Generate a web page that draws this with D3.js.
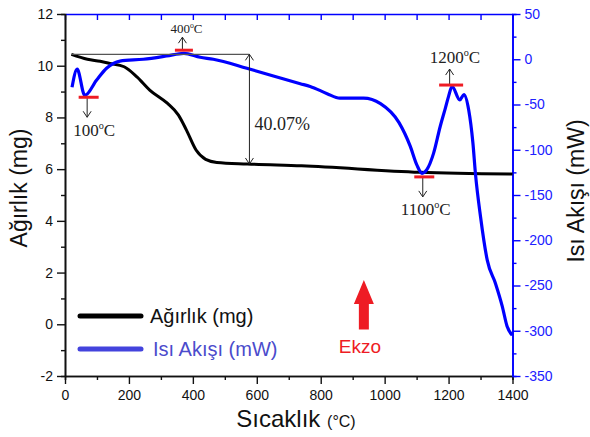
<!DOCTYPE html>
<html>
<head>
<meta charset="utf-8">
<script src="https://cdn.jsdelivr.net/npm/d3@7"></script>
<style>
  body { margin: 0; background: #fff; }
  text { font-family: Arial, 'Liberation Sans', sans-serif; }
  .serif { font-family: 'Times New Roman', 'Liberation Serif', serif; }
</style>
</head>
<body>
<svg id="chart"></svg>
<script>
// ---- data ----
const weightTemp = [20, 70, 110, 140, 185, 225, 265, 320, 355, 380, 410, 440, 475, 570, 740, 1110, 1400]
const weightMg = [10.44, 10.25, 10.17, 10.09, 9.96, 9.57, 9.06, 8.55, 8.09, 7.51, 6.74, 6.38, 6.26, 6.2, 6.13, 5.88, 5.81]

const heatTemp = [22, 38, 62, 99, 130, 172, 245, 318, 372, 423, 464, 569, 652, 736, 767, 820, 860, 934, 987,
  1045, 1080, 1101, 1117, 1132, 1153, 1174, 1190, 1200, 1211, 1235, 1248, 1263, 1276, 1284, 1300, 1321,
  1347, 1368, 1383, 1399]
const heatMw = [-31, -11, -40, -23, -10, -2, 0, 3.6, 6.6, 2.2, 0, -10, -18.5, -27, -30, -38, -43, -43, -49,
  -70, -96, -117, -126, -122, -104, -74, -54, -41, -30, -45, -39, -56, -92, -126, -174, -222,
  -248, -273, -295, -305]

// peak markers (temperature, heat flow, label)
const peakTemps = [74, 372, 1124, 1208]
const peakFlows = [-42, 10, -130, -28.5]
const peakLabels = ['100', '400', '1100', '1200']

// mass loss annotation
const lossFrom = 20
const lossAt = 577
const lossTop = 10.44
const lossBottom = 6.2
const lossText = '40.07%'

const xTicks = [0, 200, 400, 600, 800, 1000, 1200, 1400]
const leftTicks = [-2, 0, 2, 4, 6, 8, 10, 12]
const rightTicks = [-350, -300, -250, -200, -150, -100, -50, 0, 50]

// ---- layout ----
const W = 590
const H = 437
const margin = { top: 14, left: 65, right: 77.5, bottom: 61 }
const width = W - margin.left - margin.right
const height = H - margin.top - margin.bottom

const svgRoot = d3.select('#chart').attr('width', W).attr('height', H)
const svg = svgRoot.append('g').attr('transform', `translate(${margin.left},${margin.top})`)

const x = d3.scaleLinear().domain([0, 1400]).range([0, width])
const yL = d3.scaleLinear().domain([-2, 12]).range([height, 0])
const yR = d3.scaleLinear().domain([-350, 50]).range([height, 0])

const BLUE = '#0000ff'
const RED = '#ee1c24'
const plain = d => String(d) // hyphen minus, no thousands comma

// ---- axes ----
function styleAxis(g, color) {
  g.select('.domain').attr('stroke', color).attr('stroke-width', 1.6)
  g.selectAll('.tick line').attr('stroke', color).attr('stroke-width', 1.4)
  g.selectAll('.tick text').attr('font-size', 14).attr('fill', color === BLUE ? '#2020ff' : '#111')
}

svg.append('g')
  .attr('transform', `translate(0,${height})`)
  .call(d3.axisBottom(x).tickValues(d3.range(100, 1400, 200)).tickSize(4).tickFormat(''))
  .call(g => styleAxis(g, '#111'))
svg.append('g')
  .attr('transform', `translate(0,${height})`)
  .call(d3.axisBottom(x).tickValues(xTicks).tickSize(8).tickSizeOuter(0).tickPadding(6).tickFormat(plain))
  .call(g => styleAxis(g, '#111'))

svg.append('g')
  .call(d3.axisTop(x).tickValues(d3.range(0, 1401, 100)).tickSize(-6).tickSizeOuter(0).tickFormat(''))
  .call(g => styleAxis(g, BLUE))

svg.append('g')
  .call(d3.axisLeft(yL).tickValues(d3.range(-1, 12, 2)).tickSize(4).tickFormat(''))
  .call(g => styleAxis(g, '#111'))
svg.append('g')
  .call(d3.axisLeft(yL).tickValues(leftTicks).tickSize(8).tickSizeOuter(0).tickPadding(4).tickFormat(plain))
  .call(g => styleAxis(g, '#111'))

svg.append('g')
  .attr('transform', `translate(${width},0)`)
  .call(d3.axisRight(yR).tickValues(d3.range(-325, 50, 50)).tickSize(4).tickFormat(''))
  .call(g => styleAxis(g, BLUE))
svg.append('g')
  .attr('transform', `translate(${width},0)`)
  .call(d3.axisRight(yR).tickValues(rightTicks).tickSize(8).tickSizeOuter(0).tickPadding(4).tickFormat(plain))
  .call(g => styleAxis(g, BLUE))

// ---- curves ----
svg.append('path')
  .datum(weightTemp.map((t, i) => [t, weightMg[i]]))
  .attr('d', d3.line().x(d => x(d[0])).y(d => yL(d[1])).curve(d3.curveMonotoneX))
  .attr('fill', 'none').attr('stroke', '#000').attr('stroke-width', 3)

svg.append('path')
  .datum(heatTemp.map((t, i) => [t, heatMw[i]]))
  .attr('d', d3.line().x(d => x(d[0])).y(d => yR(d[1])).curve(d3.curveMonotoneX))
  .attr('fill', 'none').attr('stroke', BLUE).attr('stroke-width', 3.2)
  .attr('stroke-linejoin', 'round')

// ---- mass loss annotation ----
function arrowHead(g, ax, ay, dir) {
  // open V head; dir = 1 points down, -1 points up
  g.append('path')
    .attr('d', `M${ax - 4},${ay - 6 * dir} L${ax},${ay} L${ax + 4},${ay - 6 * dir}`)
    .attr('fill', 'none').attr('stroke', '#222').attr('stroke-width', 1)
}

svg.append('line')
  .attr('x1', x(lossFrom)).attr('x2', x(lossAt))
  .attr('y1', yL(lossTop)).attr('y2', yL(lossTop))
  .attr('stroke', '#555').attr('stroke-width', 1.2)
svg.append('line')
  .attr('x1', x(lossAt)).attr('x2', x(lossAt))
  .attr('y1', yL(lossTop)).attr('y2', yL(lossBottom))
  .attr('stroke', '#222').attr('stroke-width', 1)
arrowHead(svg, x(lossAt), yL(lossTop), -1)
arrowHead(svg, x(lossAt), yL(lossBottom), 1)
svg.append('text')
  .attr('class', 'serif')
  .attr('x', x(lossAt) + 5).attr('y', yL(lossBottom) - 34)
  .attr('font-size', 18).attr('fill', '#222')
  .text(lossText)

// ---- peak markers ----
const peakStyle = [
  { dir: 1, len: 20, size: 17, dx: -14, dy: 19, half: 10 },
  { dir: -1, len: 13, size: 13, dx: -12, dy: -4, half: 9 },
  { dir: 1, len: 20, size: 17, dx: -22, dy: 18, half: 10 },
  { dir: -1, len: 16, size: 17, dx: -20, dy: -6, half: 12 }
]

peakTemps.forEach((t, i) => {
  const s = peakStyle[i]
  const cx = x(t)
  const cy = yR(peakFlows[i])
  const ax = cx - 1.5
  const end = cy + s.dir * s.len
  svg.append('line')
    .attr('x1', ax).attr('x2', ax).attr('y1', cy).attr('y2', end)
    .attr('stroke', '#222').attr('stroke-width', 1)
  arrowHead(svg, ax, end, s.dir)
  svg.append('line')
    .attr('x1', cx - s.half).attr('x2', cx + s.half).attr('y1', cy).attr('y2', cy)
    .attr('stroke', RED).attr('stroke-width', 3)
  const label = svg.append('text')
    .attr('class', 'serif')
    .attr('x', ax + s.dx).attr('y', end + s.dy)
    .attr('font-size', s.size).attr('fill', '#222')
  label.append('tspan').text(peakLabels[i])
  const up = s.size * 0.42
  label.append('tspan').attr('font-size', s.size * 0.6).attr('dy', -up).text('o')
  label.append('tspan').attr('dy', up).text('C')
})

// ---- Ekzo arrow ----
const ekzoX = x(935)
const ekzoTop = yL(1.71)
const ekzoBottom = yL(-0.2)
svg.append('polygon')
  .attr('points', [
    [ekzoX, ekzoTop],
    [ekzoX + 10, ekzoTop + 24],
    [ekzoX + 5, ekzoTop + 24],
    [ekzoX + 5, ekzoBottom],
    [ekzoX - 5, ekzoBottom],
    [ekzoX - 5, ekzoTop + 24],
    [ekzoX - 10, ekzoTop + 24]
  ].map(p => p.join(',')).join(' '))
  .attr('fill', RED)
svg.append('text')
  .attr('x', ekzoX - 4).attr('y', ekzoBottom + 24)
  .attr('text-anchor', 'middle').attr('font-size', 19).attr('fill', RED)
  .text('Ekzo')

// ---- legend ----
const legend = svgRoot.append('g')
legend.append('line').attr('x1', 80).attr('x2', 141).attr('y1', 316).attr('y2', 316)
  .attr('stroke', '#000').attr('stroke-width', 5).attr('stroke-linecap', 'round')
legend.append('text').attr('x', 150).attr('y', 323).attr('font-size', 20).attr('fill', '#111')
  .text('Ağırlık (mg)')
legend.append('line').attr('x1', 80).attr('x2', 141).attr('y1', 349).attr('y2', 349)
  .attr('stroke', '#4343dd').attr('stroke-width', 5).attr('stroke-linecap', 'round')
legend.append('text').attr('x', 153).attr('y', 356).attr('font-size', 20).attr('fill', '#4b4bcc')
  .text('Isı Akışı (mW)')

// ---- axis titles ----
svgRoot.append('text')
  .attr('transform', 'translate(27,188) rotate(-90)')
  .attr('text-anchor', 'middle').attr('font-size', 23).attr('fill', '#111')
  .text('Ağırlık (mg)')

svgRoot.append('text')
  .attr('transform', 'translate(584,191) rotate(-90)')
  .attr('text-anchor', 'middle').attr('font-size', 23).attr('fill', '#111')
  .text('Isı Akışı (mW)')

const xTitle = svgRoot.append('text')
  .attr('x', 296).attr('y', 427)
  .attr('text-anchor', 'middle').attr('fill', '#111')
xTitle.append('tspan').attr('font-size', 24).text('Sıcaklık ')
xTitle.append('tspan').attr('font-size', 16).text('(°C)')
</script>
</body>
</html>
